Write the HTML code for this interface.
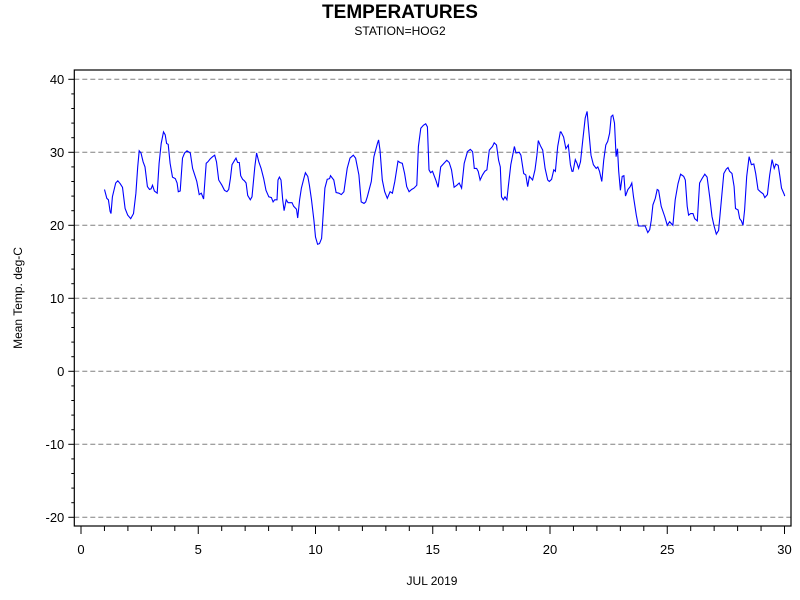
<!DOCTYPE html>
<html><head><meta charset="utf-8"><style>
body{margin:0;background:#fff;}
svg{display:block;font-family:"Liberation Sans",Arial,sans-serif;}
</style></head><body>
<svg id="chart" width="800" height="600">
<text x="400" y="18" text-anchor="middle" font-size="19" font-weight="bold">TEMPERATURES</text>
<text x="400" y="35" text-anchor="middle" font-size="12">STATION=HOG2</text>
<text transform="translate(22,298) rotate(-90)" text-anchor="middle" font-size="12">Mean Temp. deg-C</text>
<text x="432" y="585" text-anchor="middle" font-size="12">JUL 2019</text>
<g id="grid"></g><g id="axes"></g><g id="series"></g>
</svg>
<script>
const yTicks=[-20,-10,0,10,20,30,40];
const xTicks=[0,5,10,15,20,25,30];
const days=[1.00,1.10,1.17,1.24,1.28,1.34,1.48,1.57,1.67,1.77,1.88,1.99,2.12,2.24,2.34,2.42,2.48,2.56,2.65,2.73,2.83,2.92,2.99,3.05,3.13,3.25,3.33,3.42,3.52,3.59,3.65,3.72,3.80,3.90,4.02,4.10,4.15,4.23,4.33,4.42,4.52,4.66,4.76,4.87,4.94,5.04,5.13,5.23,5.34,5.41,5.51,5.61,5.70,5.78,5.87,6.01,6.12,6.22,6.30,6.37,6.44,6.55,6.61,6.68,6.75,6.81,6.89,6.97,7.04,7.11,7.22,7.29,7.41,7.49,7.58,7.68,7.79,7.89,8.01,8.12,8.19,8.26,8.36,8.40,8.46,8.53,8.60,8.66,8.75,8.83,9.00,9.07,9.19,9.24,9.32,9.40,9.50,9.57,9.67,9.74,9.83,9.93,10.00,10.09,10.17,10.26,10.31,10.40,10.50,10.60,
10.64,10.78,10.88,11.00,11.10,11.21,11.35,11.47,11.61,11.71,11.85,11.95,12.07,12.14,12.21,12.38,12.49,12.64,12.69,12.75,12.85,12.95,13.06,13.18,13.28,13.38,13.52,13.60,13.70,13.80,13.89,13.99,14.10,14.20,14.32,14.39,14.49,14.60,14.70,14.77,14.84,14.91,14.99,15.13,15.23,15.34,15.48,15.60,15.70,15.80,15.91,16.03,16.13,16.23,16.34,16.48,16.60,16.70,16.77,16.87,16.94,17.02,17.12,17.22,17.31,17.41,17.55,17.62,17.72,17.81,17.88,17.93,18.01,18.08,18.16,18.22,18.33,18.48,18.55,18.69,18.76,18.88,18.97,19.05,19.12,19.26,19.36,19.44,19.50,19.59,19.69,19.79,19.90,19.97,20.07,20.16,20.23,20.33,20.44,
20.47,20.58,20.68,20.78,20.87,20.94,20.98,21.08,21.15,21.22,21.30,21.40,21.50,21.58,21.65,21.75,21.85,21.97,22.04,22.11,22.21,22.29,22.38,22.46,22.54,22.61,22.68,22.75,22.82,22.88,22.93,23.00,23.08,23.15,23.22,23.32,23.42,23.49,23.56,23.68,23.77,23.89,24.06,24.17,24.25,24.32,24.39,24.49,24.57,24.63,24.74,24.89,25.00,25.10,25.24,25.34,25.46,25.57,25.70,25.77,25.85,25.91,26.00,26.10,26.17,26.28,26.38,26.48,26.60,26.70,26.81,26.91,26.99,27.09,27.19,27.31,27.41,27.52,27.59,27.66,27.76,27.85,27.91,28.02,28.09,28.16,28.23,28.30,28.39,28.49,28.59,28.69,28.77,28.87,28.97,29.09,29.16,29.27,29.37,29.47,29.56,29.63,29.73,29.80,29.87,29.99,30.01];
const temps=[24.9,23.7,23.5,21.9,21.6,23.9,25.8,26.1,25.7,25.2,22.3,21.4,20.9,21.6,24.4,28.0,30.2,29.9,28.7,28.0,25.3,24.9,25.0,25.5,24.7,24.4,28.5,31.2,32.8,32.4,31.2,31.1,28.5,26.6,26.4,25.8,24.6,24.7,29.2,29.9,30.2,29.9,27.8,26.7,26.0,24.2,24.4,23.6,28.5,28.7,29.1,29.4,29.6,28.7,26.2,25.5,24.8,24.6,24.9,26.4,28.3,28.9,29.2,28.6,28.6,26.8,26.3,26.1,25.8,24.1,23.5,23.9,28.0,29.9,28.7,27.8,26.4,24.8,23.9,23.8,23.2,23.5,23.5,26.2,26.6,26.2,23.5,22.0,23.5,23.1,23.1,22.6,22.2,21.0,23.5,25.1,26.4,27.2,26.7,25.5,23.5,20.7,18.4,17.4,17.5,18.2,20.7,25.1,26.3,26.4,
26.8,26.2,24.5,24.4,24.2,24.6,27.8,29.2,29.6,29.2,26.9,23.2,23.0,23.2,23.9,26.0,29.4,31.2,31.7,30.3,26.2,24.6,23.7,24.6,24.4,26.0,28.8,28.6,28.5,27.1,25.3,24.6,24.9,25.1,25.5,30.8,33.3,33.7,33.9,33.5,27.6,27.2,27.4,26.2,25.2,28.0,28.5,28.9,28.6,27.6,25.2,25.5,25.8,25.1,28.5,30.1,30.4,30.1,27.8,27.8,27.4,26.2,26.9,27.4,27.6,30.3,30.8,31.3,31.0,28.9,28.0,23.9,23.5,23.9,23.5,25.3,28.3,30.8,29.9,30.0,29.6,27.1,26.9,25.3,26.7,26.2,27.6,29.6,31.6,30.9,30.3,27.8,26.2,26.0,26.3,27.6,27.4,30.8,32.8,
32.8,32.1,30.5,31.0,28.3,27.4,27.4,29.0,28.5,27.8,28.7,31.7,34.7,35.6,33.1,29.6,28.3,27.8,28.0,27.4,26.0,28.9,31.0,31.5,32.6,34.9,35.1,34.0,29.4,30.5,27.4,24.8,26.7,26.8,24.0,24.9,25.3,25.8,23.9,21.4,19.9,19.9,19.9,19.0,19.4,20.7,22.8,23.7,24.9,24.8,22.6,21.2,20.0,20.5,20.0,23.5,25.7,27.0,26.7,26.2,22.6,21.4,21.6,21.6,20.9,20.6,25.8,26.4,27.0,26.6,23.9,21.2,20.0,18.8,19.3,23.5,27.1,27.7,27.9,27.4,27.1,25.3,22.3,22.1,20.9,20.6,20.0,22.1,26.7,29.4,28.3,28.4,27.1,24.9,24.6,24.3,23.8,24.2,26.9,29.0,27.8,28.4,28.2,26.8,25.1,24.2,24.0];
const NS='http://www.w3.org/2000/svg';
const L=74.3,R=791,T=70,B=526;
function xs(d){return 81+d*23.45;}
function ys(v){return 371.3-v*7.3;}
function mk(tag,attrs,parent){const e=document.createElementNS(NS,tag);for(const k in attrs)e.setAttribute(k,attrs[k]);parent.appendChild(e);return e;}
const grid=document.getElementById('grid'),axes=document.getElementById('axes'),series=document.getElementById('series');
yTicks.forEach(v=>{
  const g=mk('line',{x1:L,x2:R,y1:ys(v),y2:ys(v),stroke:'#808080','stroke-width':1,'stroke-dasharray':'5,3'},grid);
  
  
  const t=mk('line',{x1:L-6,x2:L,y1:ys(v),y2:ys(v),stroke:'#000'},axes);
  
  
  const lb=mk('text',{x:L-10,y:ys(v)+4.5,'text-anchor':'end','font-size':13},axes);
  lb.textContent=v;
  
  
});
for(let v=-20;v<=40;v+=2){if(v%10!==0){const m=mk('line',{x1:L-3,x2:L,y1:ys(v),y2:ys(v),stroke:'#000'},axes);
  
  }}
for(let d=0;d<=30;d++){const maj=d%5===0;const m=mk('line',{x1:xs(d),x2:xs(d),y1:B,y2:B+(maj?8:5),stroke:'#000'},axes);
  
  }
xTicks.forEach(d=>{const lb=mk('text',{x:xs(d),y:554,'text-anchor':'middle','font-size':13},axes);lb.textContent=d;
  
  });
const fr=mk('rect',{x:L,y:T,width:R-L,height:B-T,fill:'none',stroke:'#000','stroke-width':1.2},axes);


const pts=days.map((d,i)=>xs(d).toFixed(1)+','+ys(temps[i]).toFixed(1)).join(' ');
const pl=mk('polyline',{points:pts,fill:'none',stroke:'#0000ff','stroke-width':1.1},series);


</script>
</body></html>
